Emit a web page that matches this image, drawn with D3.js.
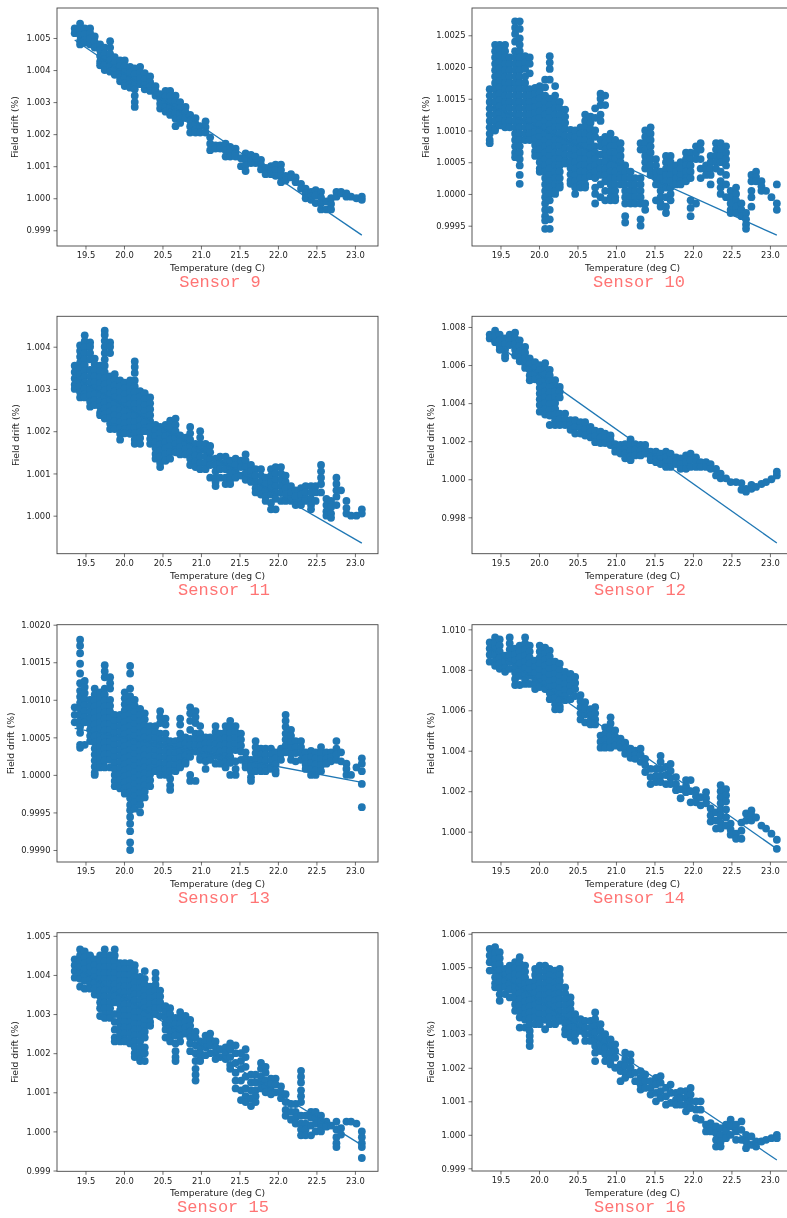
<!DOCTYPE html>
<html><head><meta charset="utf-8">
<script src="https://cdn.jsdelivr.net/npm/d3@7"></script>
<style>html,body{margin:0;padding:0;background:#fff;overflow:hidden}svg{display:block;filter:blur(0.7px)}</style>
</head><body><div id="c"></div>
<script>
// Temperature columns (deg C), shared by all sensors
const temperature=[19.36,19.43,19.49,19.56,19.62,19.69,19.75,19.82,19.88,19.95,20.01,20.08,20.14,20.21,20.27,20.34,20.41,20.47,20.54,20.60,20.67,20.73,20.80,20.86,20.93,20.99,21.06,21.12,21.19,21.25,21.32,21.38,21.45,21.52,21.58,21.65,21.71,21.78,21.84,21.91,21.97,22.04,22.10,22.17,22.23,22.30,22.36,22.43,22.49,22.56,22.63,22.69,22.76,22.82,22.89,22.95,23.02,23.09];
// Drift readings per column, in units of 1e-5 above 1.0
const sensor9=[[530,515],[545,527,509,491,480],[530,512,494,485],[530,515,498,480],[505,488,470],[480,462,444,426,415],[470,452,434,416,400],[490,470,450,430,412,395],[440,422,404,385],[430,412,394,376,365],[430,412,394,376,358,350],[410,392,374,356,345],[405,387,369,351,340,320,300,285],[410,392,374,356],[390,372,354,340],[380,362,348,335],[350,335,320],[325,310,295,280],[335,318,301,284,270],[335,318,301,284,267,260],[320,302,284,266,248,225],[300,282,264,246,235],[285,268,250],[260,242,224,205],[250,232,214,205],[225,205],[240,222,205],[190,170,150],[165,155],[165,155],[170,150,130],[160,145,130],[155,140,130],[125,100],[140,122,104,85],[135,120,110],[130,110],[120,105,90],[95,75],[100,85,75],[105,88,70],[105,88,70,50],[70,55],[75,65],[65,50],[45,30],[30,15,0],[20,5,-5],[25,8,-15],[20,2,-16,-35],[-10,-35],[0,-18,-35],[20,5],[20,15],[15,5],[5],[0],[5,-5]];
const sensor10=[[165,155,145,135,125,115,105,95,85,80],[235,225,215,205,195,185,175,165,155,145,135,125,115,105,100],[235,228,218,208,198,188,178,168,158,148,138,128,118,108],[235,225,215,205,195,185,175,165,155,145,135,125,115,105],[215,205,195,185,175,165,155,145,135,125,115,105],[272,262,252,240,225,215,205,195,185,175,165,155,145,135,125,115,105,95,85,75,65,58],[272,260,245,235,225,215,205,195,185,175,165,155,145,135,125,115,105,95,85,75,65,55,45,30,16],[217,207,197,185,175,165,155,145,135,125,115,105,95,85],[215,205,190,165,155,145,135,125,115,105,95,85],[167,157,147,137,127,117,107,97,87,77,67,60],[170,160,150,140,130,120,110,100,90,80,70,60,50,40,35],[180,168,155,145,135,125,115,105,95,85,75,65,55,45,35,25,15,5,-5,-15,-25,-35,-42,-55],[217,207,197,180,150,140,130,120,110,100,90,80,70,60,50,40,30,20,10,0,-10,-25,-40,-55],[170,155,145,135,125,115,105,95,85,75,65,55,45,35,25,15,5,0],[145,135,125,115,105,95,85,75,65,55,45,35,25,15,10],[133,122,112,102,92,82,72,62,52,48],[101,91,81,71,61,51,41,31,21,16],[100,90,80,70,60,50,40,30,20,10,0],[105,95,85,75,65,55,45,35,25,15,10],[125,115,105,95,85,75,65,55,45,35,25,15,10],[122,112,102,92,82,72,62,52,42,32,28],[135,120,100,90,75,65,55,45,35,25,10,0,-15],[158,150,140,125,115,85,75,62,50,40,30,15,-5],[155,140,90,80,70,60,50,40,30,20,5,-10],[95,85,75,65,55,45,35,25,15,5,-5,-10],[85,75,65,55,45,35,25,15,5,-5,-10],[80,70,60,50,40,30,25,15],[45,35,25,15,5,-5,-15,-35,-45],[35,25,15,5,-5,-15],[25,15,5,-5,-15],[80,70,25,15,5,-5,-15,-40,-50],[100,90,80,70,60,50,40,-15,-25],[105,95,85,75,65,55,45,35,30],[55,45,35,25,15,-10],[35,25,15,5,-5,-15,-20],[60,50,40,30,20,10,-5,-20,-30],[60,50,40,30,20,10,0,-10],[45,35,25,15],[50,40,30,20,15],[65,55,45,35,25,20],[65,55,45,35,25,-10,-22,-35],[75,65,55,-15],[80,70,55,40,25],[45,38,30],[60,50,40,30,15],[80,70,60,50,40],[80,70,60,50,35,20,10,0],[75,65,55,45,30,15,-5],[5,-5,-15,-25,-30],[10,0,-10,-20,-30],[-15,-25,-35],[-30,-40,-48,-55],[30,20,5,-5,-20],[35,27,20],[20,12,5],[5],[-5],[15,-15,-25]];
const sensor11=[[355,340,325,310,300],[403,390,376,362,348,334,320,306,292,280],[427,413,399,385,371,357,343,329,315,301,287,280],[410,400,385,370,345,330,315,300,285,270,258],[372,358,344,330,316,302,288,274,262],[355,342,328,314,300,286,272,258,244,238],[438,428,414,400,385,370,355,340,325,310,296,282,268,254,240,230],[410,400,385,330,316,302,288,274,260,246,232,218,205],[335,322,308,294,280,266,252,238,224,210,205],[320,306,292,278,264,250,236,222,208,194,180],[315,302,288,274,260,246,232,218,204,195],[320,306,292,278,264,250,236,222,208,194],[365,352,338,320,306,292,278,264,250,236,222,208,194,180,170],[295,282,268,254,240,226,212,198,184,170],[290,276,262,248,234,220,206,200],[280,266,252,238,224,210,196,182,170],[215,202,188,174,160,146,135],[210,196,182,168,154,140,125,115],[215,202,188,174,160,146,130],[225,210,195,180,165,150,135],[230,215,200,185,170,155,150],[190,176,162,150,145],[185,172,158,145],[210,195,180,165,150,135,120],[170,156,142,128,115],[200,185,170,155,140,125,110],[170,155,140,125,110],[165,150,135,120,90],[135,120,105,90,80,70],[140,125,110,90],[140,125,110,90,75],[130,115,100,85,75],[135,120,105,90],[130,115,95],[145,130,115,100,85],[120,105,90,80],[110,95,80,65,55],[110,95,80,65,50],[90,75,60,45,35],[110,95,80,65,50,30,15],[115,100,85,70,55,40,15],[115,100,85,70,55,35],[95,80,65,50,35],[70,55,40,35],[60,45,30,25],[65,50,35,25],[70,55,40,35],[70,55,40,25,15],[70,55,35],[120,105,90,75,55],[40,25,10,0],[35,20,5,-5],[90,75,60,45,25],[60],[35,18,5],[0],[0],[15,5]];
const sensor12=[[760,740],[780,750,720],[760,730,700,680],[740,710,680,650,635],[760,730,705],[770,740,710,680,650],[730,700,670,640,620],[695,665,635,605,585],[635,605,575,545,520],[615,585,555,525],[600,570,540,510,480,450,420,390,355],[610,580,550,520,490,460,430,400,370,340],[575,545,515,485,455,425,395,365,335,285],[520,490,460,430,400,370,340,310,285],[485,460,430,345,315,285],[345,315,285],[310,285,260],[310,275,240],[300,270,240],[300,265,230],[275,250,220],[255,225,195],[250,220,190],[240,215,190],[230,205,180],[185,165,145],[180,155,135],[185,160,135,110],[210,180,150,120,100],[185,155,125],[180,150,125],[180,155,135],[145,120,100],[145,115,90],[135,105,80],[145,115,90,65],[135,100,65],[115,95,80],[110,80,55],[125,90,55],[135,100,65],[115,90,65],[90,65],[90,65],[80,55],[55,20],[30,5],[5],[-15],[-15],[-20,-55],[-50,-65],[-30,-50],[-40],[-25],[-15],[0],[20,40]];
const sensor13=[[90,80,70],[180,172,162,148,135,122,112,104,96,88,80,72,64,56,40,36],[125,117,109,101,93,85,77,70,40],[100,92,84,76,68,60,52,45],[115,107,99,91,83,75,67,59,51,43,35,27,19,11,3,0],[110,102,94,86,78,70,62,54,46,38,30,22,14,10],[146,138,130,115,107,99,91,83,75,67,59,51,43,35,27,19,10],[130,122,115,100,92,84,76,68,60,52,44,36,28,20,10],[80,72,64,56,48,40,32,24,16,8,0,-8,-15],[80,73,65,57,49,41,33,25,17,9,1,-7,-15,-18],[110,102,94,86,78,70,62,54,46,38,30,22,14,6,-2,-10,-18,-25],[145,135,115,105,97,89,81,73,65,57,49,41,33,25,17,9,1,-7,-15,-23,-31,-40,-47,-56,-65,-75,-90,-100],[100,92,84,76,68,60,52,44,36,28,20,12,4,-4,-12,-20,-28,-36,-45],[88,80,72,64,56,48,40,32,24,16,8,0,-8,-16,-24,-32,-40,-50],[82,74,66,58,50,42,34,26,18,10,2,-6,-14,-22,-30],[65,57,49,41,33,25,17,9,1,-7,-15],[65,57,49,41,33,25,17,9,5],[85,77,69,55,47,39,31,23,15,7,0],[75,67,55,47,39,31,23,15,7,0],[45,37,29,21,13,5,-5,-14,-20],[45,37,29,21,13,5],[75,67,55,47,39,31,23,15,10],[50,42,34,26,18,15],[90,82,72,60,48,40,32,24,0,-8],[85,77,69,55,47,39,31,-8],[65,55,47,39,31,23,20],[50,42,34,26,18,8],[50,42,34,26,20],[65,57,49,41,33,25,15],[55,47,39,31,23,15],[65,57,49,41,33,25,17,10],[72,64,56,48,40,32,24,16,0],[65,57,49,41,33,18,8,0],[55,47,39,31,20],[30,22,14,10],[20,12,5,-3,-8],[45,37,29,21,13,5],[35,27,19,11,5],[35,27,19,11,5],[35,27,19,11,8],[30,22,14,6,2],[35,28,20],[80,72,64,55,47,39,30],[60,52,44,36,28,20],[45,37,29,18],[45,37,29,20],[30,22,14,8],[32,24,16,8,0],[30,22,14,6,0],[37,29,21,13,5],[30,22,15],[30,24,18],[45,35,27,20],[30,18],[15,8,0],[0],[10],[22,15,5,-12,-43]];
const sensor14=[[935,905,875,840],[960,930,900,870,840,820],[950,920,890,860,830,805],[870,840,810,790],[960,930,900,870,840,805],[905,875,845,815,785,755,725],[920,890,860,830,800,770,725],[960,930,900,870,840,810,780,750,730],[920,890,860,830,800,770,730],[845,815,785,755,725,705],[920,890,860,830,800,770,740,715],[910,880,850,820,790,760,730,705],[895,865,835,805,775,745,715,685,655],[840,810,780,750,720,690,660,630,605],[830,800,770,740,710,680,650,620,605],[790,760,730,700,670,650],[780,750,720,690,655],[765,735,705,670],[675,645,615,585,555],[640,610,580,540],[605,575,550,530],[615,585,555,530],[475,445,415],[515,485,455,425,415],[565,535,505,475,445,415],[500,470,445,425],[460,435,415],[440,410,385],[410,385,365],[400,380,360],[410,380,345],[360,330,295],[310,270,235],[310,275,245],[375,345,310,275,245],[320,280,235],[335,300,265,235],[270,235,205],[210,165],[255,225,195],[255,200,145],[205,175,145],[170,130],[195,165,140],[115,80,50],[95,55,15],[230,200,170,140,110,80,45,15],[210,180,150,110,70,30],[40,10,-15],[-10,-35],[45,5,-35],[90,55],[105,80,55],[70],[30],[15],[-10],[-40,-85]];
const sensor15=[[440,425,410,393],[465,450,435,420,405,390,370],[460,445,430,415,400,385,365],[450,435,420,405,390,375,365],[440,425,410,395,380,365,350],[450,435,420,405,390,375,360,345,330,315,295],[465,450,435,420,405,390,375,360,345,330,315,300,290],[450,435,420,405,390,375,360,345,330,315,300,290],[465,450,435,420,405,390,375,360,345,330,300,280,260,240,230],[430,415,400,385,370,355,340,325,310,295,280,265,250,235,230],[430,415,400,385,370,355,340,325,310,295,280,265,250,235,230],[430,415,400,385,370,355,340,325,310,295,280,265,250,235,225],[425,410,395,380,365,350,335,320,305,290,275,260,245,230,215,200,190],[395,380,365,350,335,320,305,290,275,260,245,230,215,200,185,180],[410,390,375,360,345,330,315,300,285,270,255,240,215,200,180],[370,355,340,325,310,295,280,270],[405,390,375,360,345,330,315,300],[360,345,330,315,295],[320,305,290,275,260,240],[315,300,285,270,255,240,230],[290,275,260,245,225,205,190,180],[305,290,275,260,245,230],[295,280,265,250],[285,270,255,240,225,205],[255,240,220,200,180,160,145,130],[230,215,200,190,180],[245,230,215,195],[250,235,220,200],[230,215,200,185],[210,190],[215,200,185],[225,210,190,170,160],[220,200,175,150,130,110],[200,180,160,130,105,80],[210,190,165,140,110,90,75],[145,125,105,85,65],[145,125,105,90,75],[175,160,140,125,110],[165,150,130,115,100],[135,120,105,95],[135,120,100],[115,100,85],[95,75,55,40],[70,50,30],[70,50,35,20],[155,140,125,105,90,75,40,20,5,-10],[40,20,5,-10],[50,35,15,-10],[50,35,20,0],[40,25,10,0],[25,12],[15],[25,5,-15,-30,-40],[8,-8],[25],[25],[20],[0,-15,-30,-40,-68]];
const sensor16=[[555,535,515,490],[560,542,524,506,488,470,452,440],[545,527,509,491,473,455,437,419,400],[495,477,459,441,420],[505,487,469,451,433,410],[515,497,479,461,443,425,407,389,370],[530,512,494,476,458,440,422,404,386,368,350,320],[505,487,469,451,433,415,397,379,361,343,320],[455,437,419,401,383,365,347,329,310,295,280,265],[495,477,459,441,423,405,387,369,351,330],[505,487,469,451,433,415,397,379,361,343,330],[505,487,469,451,433,415,397,379,361,343,315],[495,477,459,441,423,405,387,369,351,330],[490,472,454,436,418,400,382,364,346,330],[495,477,459,441,423,405,387,369,351,340],[440,422,404,386,368,350,332,314,300],[410,392,374,356,338,320,302,290],[360,340,320,300,280],[345,325,310],[340,320,300,280],[340,320,300,280],[365,345,325,305,285,265,245,220],[330,310,290,270,250],[300,280,260,240,220],[285,265,245,225,210],[270,250,230,200],[210,190,160],[245,225,205,185,170],[240,220,200,180],[185,160],[190,170,150,135],[180,160,140],[160,140,120],[170,150,125,100],[175,155,130,110],[140,115,90],[150,125,95],[125,105,90],[130,110,90],[130,110,90,70],[140,120,100,80],[100,75,50],[100,75,45],[30,10],[35,20,10],[25,5,-15,-35],[20,0,-20,-35],[30,10,-10],[45,25,0],[30,10,-15],[40,15,-15],[0,-20,-40],[-5,-30],[-20,-35],[-20],[-15],[-10],[0,-10]];

const sensorData=[sensor9,sensor10,sensor11,sensor12,sensor13,sensor14,sensor15,sensor16];
const sensorNames=["Sensor 9","Sensor 10","Sensor 11","Sensor 12","Sensor 13","Sensor 14","Sensor 15","Sensor 16"];
// Fitted line ends at the first and last temperature
const fitStart=[1.00494,1.00139,1.00327,1.00734,1.00062,1.0091,1.0042,1.0050];
const fitEnd=[0.99885,0.99935,0.99935,0.99665,0.9999,0.99915,0.99965,0.99925];
// Tick labels per panel
const yTicks=[
 ["0.999","1.000","1.001","1.002","1.003","1.004","1.005"],
 ["0.9995","1.0000","1.0005","1.0010","1.0015","1.0020","1.0025"],
 ["1.000","1.001","1.002","1.003","1.004"],
 ["0.998","1.000","1.002","1.004","1.006","1.008"],
 ["0.9990","0.9995","1.0000","1.0005","1.0010","1.0015","1.0020"],
 ["1.000","1.002","1.004","1.006","1.008","1.010"],
 ["0.999","1.000","1.001","1.002","1.003","1.004","1.005"],
 ["0.999","1.000","1.001","1.002","1.003","1.004","1.005","1.006"]];
const xTicks=["19.5","20.0","20.5","21.0","21.5","22.0","22.5","23.0"];
const xDomain=[19.13,23.30];
const yDomains=[[0.99851,1.005936],[0.99918,1.00293],[0.9991,1.00472],[0.99609,1.00856],[0.99884,1.0020],[0.9985,1.01023],[0.99898,1.00508],[0.99892,1.00603]];
// Layout
const panelLeft=[57,472,57,472,57,472,57,472];
const panelTop=[8,8,316.3,316.3,624.7,624.7,932.7,932.7];
const panelBottom=[246,246,553.7,553.7,862,862,1171.3,1171];
const yLabelX=[15,426,16,431,11,431,15,431];
const captionX=[220,639,224,640,224,639,223,640];
const captionY=[287,287,595,595,903,903,1212,1212];
const panelWidth=321;
const blue="#1f77b4";

const svg=d3.select("#c").append("svg").attr("width",787).attr("height",1218);
sensorData.forEach((columns,k)=>{
  const x=d3.scaleLinear().domain(xDomain).range([panelLeft[k],panelLeft[k]+panelWidth]);
  const y=d3.scaleLinear().domain(yDomains[k]).range([panelBottom[k],panelTop[k]]);
  const g=svg.append("g");
  const pts=columns.flatMap((vals,i)=>vals.map(v=>[temperature[i],1+v*1e-5]));
  g.append("g").selectAll("circle").data(pts).join("circle")
    .attr("cx",d=>x(d[0])).attr("cy",d=>y(d[1])).attr("r",3.9).attr("fill",blue);
  g.append("line")
    .attr("x1",x(temperature[0])).attr("y1",y(fitStart[k]))
    .attr("x2",x(temperature[temperature.length-1])).attr("y2",y(fitEnd[k]))
    .attr("stroke",blue).attr("stroke-width",1.3);
  g.append("rect").attr("x",panelLeft[k]).attr("y",panelTop[k]).attr("width",panelWidth)
    .attr("height",panelBottom[k]-panelTop[k]).attr("fill","none").attr("stroke","#444").attr("stroke-width",0.9);
  const ax=g.append("g").attr("transform",`translate(0,${panelBottom[k]})`)
    .call(d3.axisBottom(x).tickValues(xTicks.map(Number)).tickFormat(d3.format(".1f")).tickSize(3.5).tickPadding(3));
  const ay=g.append("g").attr("transform",`translate(${panelLeft[k]},0)`)
    .call(d3.axisLeft(y).tickValues(yTicks[k].map(Number)).tickFormat((d,i)=>yTicks[k][i]).tickSize(3.5).tickPadding(3));
  [ax,ay].forEach(a=>{a.select(".domain").remove();
    a.selectAll("line").attr("stroke","#333").attr("stroke-width",0.7);
    a.selectAll("text").attr("font-family","DejaVu Sans").attr("font-size",8.4).attr("fill","#222");});
  g.append("text").attr("x",panelLeft[k]+panelWidth/2).attr("y",panelBottom[k]+25)
    .attr("text-anchor","middle").attr("font-family","DejaVu Sans").attr("font-size",9.2).attr("fill","#222").text("Temperature (deg C)");
  g.append("text").attr("transform",`translate(${yLabelX[k]+3},${(panelTop[k]+panelBottom[k])/2}) rotate(-90)`)
    .attr("text-anchor","middle").attr("font-family","DejaVu Sans").attr("font-size",9.2).attr("fill","#222").text("Field drift (%)");
  svg.append("text").attr("x",captionX[k]).attr("y",captionY[k]).attr("text-anchor","middle")
    .attr("font-family","Liberation Mono").attr("font-size",17).attr("fill","#ff7474").text(sensorNames[k]);
});
</script></body></html>
